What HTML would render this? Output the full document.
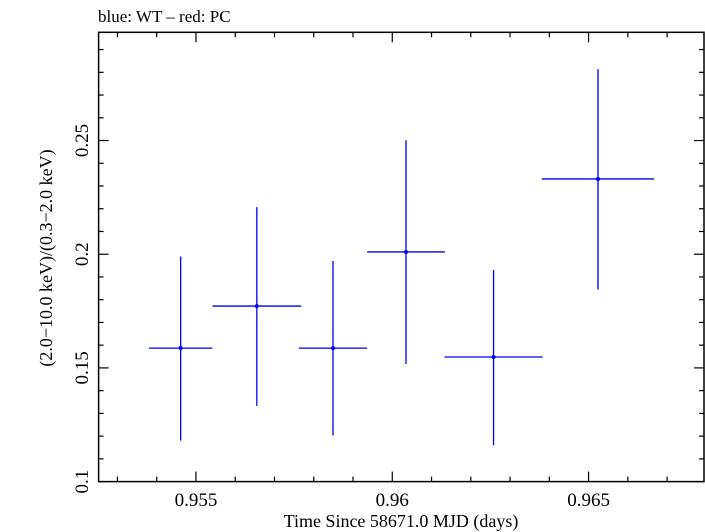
<!DOCTYPE html>
<html><head><meta charset="utf-8"><style>
body{margin:0;background:#fff;}
svg{display:block;font-family:"Liberation Serif",serif;}
</style></head><body>
<svg id="chart" width="705" height="532" viewBox="0 0 705 532" xmlns="http://www.w3.org/2000/svg">
<text x="98" y="22" font-size="17">blue: WT – red: PC</text>
<g id="axes"></g><g id="marks"></g>
<text x="401" y="527" font-size="18" text-anchor="middle">Time Since 58671.0 MJD (days)</text>
<text transform="translate(52,258) rotate(-90)" font-size="18" text-anchor="middle">(2.0−10.0 keV)/(0.3−2.0 keV)</text>
</svg>
<script>
const xTimes=[0.95461,0.95655,0.95849,0.96035,0.96258,0.96524];
const xErr=[0.00081,0.00113,0.00087,0.00099,0.00125,0.00143];
const yRatio=[0.1587,0.1772,0.1587,0.2010,0.1548,0.2331];
const yUpper=[0.1990,0.2207,0.1970,0.2501,0.1931,0.2814];
const yLower=[0.1180,0.1333,0.1203,0.1517,0.1160,0.1845];
const xTickLabels=["0.955","0.96","0.965"];
const xTickVals=[0.955,0.96,0.965];
const yTickLabels=["0.1","0.15","0.2","0.25"];
const yTickVals=[0.1,0.15,0.2,0.25];
const L=98.6,R=704,T=32.3,B=481.6,x0=0.95252,x1=0.96794,y0=0.1,y1=0.2976;
const X=v=>L+(v-x0)/(x1-x0)*(R-L);
const Y=v=>B-(v-y0)/(y1-y0)*(B-T);
const NS="http://www.w3.org/2000/svg";
function mk(tag,at,parent){const e=document.createElementNS(NS,tag);for(const k in at)e.setAttribute(k,at[k]);parent.appendChild(e);return e;}
const ax=document.getElementById('axes'),mg=document.getElementById('marks');
const frame=mk('rect',{x:L,y:T,width:R-L,height:B-T,fill:'none',stroke:'#000','stroke-width':1.5},ax);


for(let i=0;i<=16;i++){const v=0.952+i*0.001;if(v<x0||v>x1)continue;const px=X(v);const maj=Math.abs((v*1000)%5)<0.01||Math.abs((v*1000)%5-5)<0.01;const len=maj?10:5;
const t1=mk('line',{x1:px,x2:px,y1:B,y2:B-len,stroke:'#000','stroke-width':1.2},ax);


const t2=mk('line',{x1:px,x2:px,y1:T,y2:T+len,stroke:'#000','stroke-width':1.2},ax);

}
xTickVals.forEach((v,i)=>{const t=mk('text',{x:X(v),y:506,'font-size':19,'text-anchor':'middle'},ax);t.textContent=xTickLabels[i];

});
for(let i=0;i<=20;i++){const v=0.1+i*0.01;if(v>y1)continue;const py=Y(v);const maj=i%5==0;const len=maj?10:5;
const t1=mk('line',{x1:L,x2:L+len,y1:py,y2:py,stroke:'#000','stroke-width':1.2},ax);


const t2=mk('line',{x1:R,x2:R-len,y1:py,y2:py,stroke:'#000','stroke-width':1.2},ax);

}
yTickVals.forEach((v,i)=>{const t=mk('text',{transform:`translate(88,${Y(v)}) rotate(-90)`,'font-size':19,'text-anchor':'middle'},ax);t.textContent=yTickLabels[i];

});
xTimes.forEach((v,i)=>{const g=mk('g',{},mg);


mk('line',{x1:X(v-xErr[i]),x2:X(v+xErr[i]),y1:Y(yRatio[i]),y2:Y(yRatio[i]),stroke:'#0000ee','stroke-width':1.3},g);
mk('line',{x1:X(v),x2:X(v),y1:Y(yUpper[i]),y2:Y(yLower[i]),stroke:'#0000ee','stroke-width':1.3},g);
mk('circle',{cx:X(v),cy:Y(yRatio[i]),r:2,fill:'#0000ee'},g);});
</script>
</body></html>
